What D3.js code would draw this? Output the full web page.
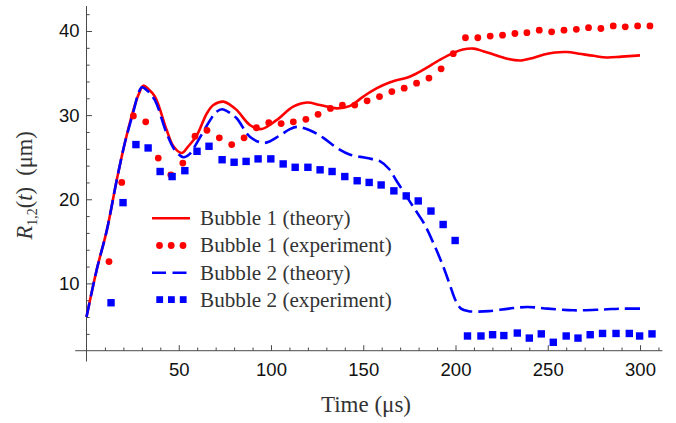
<!DOCTYPE html>
<html>
<head>
<meta charset="utf-8">
<script src="https://cdn.jsdelivr.net/npm/d3@7"></script>
<style>
  html, body { margin: 0; padding: 0; background: #fff; }
  svg { display: block; }
</style>
</head>
<body>
<svg id="chart" width="676" height="423"></svg>
<script>
// Bubble radius vs time: theory curves and measured frames for two bubbles.

// Bubble 1, theory (time in µs, radius in µm)
const theoryT1 = [0, 5.5, 11, 16.4, 20.9, 25.4, 28.5, 30.8, 33.5, 37.1, 43.5, 47.1, 51.6, 55.2, 59.8, 65.2, 68.8, 74.2, 78, 81.5, 88.7, 95, 103, 112, 119.5, 126.6, 135.7, 142.9, 150, 157.4, 164.6, 175.4, 182.6, 191.7, 198.9, 204, 209.8, 215, 220.6, 228, 235.5, 242, 248, 254, 260.4, 267, 274.8, 282, 290, 300];
const theoryR1 = [6.0, 11.6, 16.3, 22.3, 26.8, 30.6, 32.6, 33.5, 33.1, 32.2, 28.2, 26.3, 25.5, 26.3, 27.6, 30.2, 31.2, 31.6, 31.2, 30.6, 28.8, 28.35, 29.4, 31.0, 31.5, 31.2, 30.8, 31.1, 32.2, 33.2, 33.9, 34.6, 35.4, 36.6, 37.4, 37.8, 37.9, 37.6, 37.2, 36.7, 36.5, 36.8, 37.2, 37.45, 37.5, 37.3, 37.05, 36.85, 36.95, 37.1];

// Bubble 2, theory
const theoryT2 = [0, 5.5, 11, 16.4, 20.9, 25.4, 28, 30, 33, 37, 43.5, 48, 52.5, 56, 59.8, 67, 70.5, 73.5, 77.5, 81.5, 88.7, 96.5, 104.9, 110, 114, 121, 128.4, 135.7, 142.9, 152, 159.2, 164, 168, 173, 178, 183, 188, 193, 197, 200, 203, 207, 212, 218, 229, 239, 250, 264, 280, 290, 300];
const theoryR2 = [6.0, 11.6, 16.3, 22.3, 26.8, 30.4, 32.5, 33.3, 32.9, 31.8, 27.8, 25.8, 25.0, 25.4, 26.7, 29.4, 30.4, 30.7, 30.3, 29.6, 27.4, 26.7, 27.6, 28.3, 28.6, 28.2, 27.3, 26.1, 25.3, 24.9, 24.5, 23.6, 22.2, 20.5, 18.8, 17.1, 14.8, 12.2, 9.8, 8.0, 7.0, 6.7, 6.65, 6.7, 7.0, 7.2, 7.0, 6.8, 6.9, 7.0, 7.0];

// Bubble 1, experiment
const expT1 = [12.2, 19.1, 25.4, 32.1, 38.9, 45.7, 52.2, 58.8, 65.3, 72.0, 78.7, 85.4, 92.1, 98.8, 105.5, 112.1, 118.9, 125.5, 132.2, 138.7, 145.4, 152.1, 158.8, 165.5, 172.2, 178.9, 185.6, 192.2, 198.8, 205.4, 212.1, 218.8, 225.5, 232.2, 238.7, 245.4, 252.1, 258.8, 265.5, 272.1, 278.8, 285.5, 292.0, 298.7, 305.4];
const expR1 = [12.6, 22.0, 29.9, 29.2, 24.9, 22.9, 24.3, 27.5, 28.2, 27.3, 26.5, 27.3, 28.5, 29.1, 29.0, 29.2, 29.5, 30.1, 30.8, 31.2, 31.2, 31.7, 32.2, 32.8, 33.2, 33.8, 34.4, 35.5, 37.3, 39.2, 39.2, 39.4, 39.5, 39.7, 39.8, 40.1, 39.9, 40.1, 40.2, 40.4, 40.3, 40.6, 40.5, 40.6, 40.6];

// Bubble 2, experiment
const expT2 = [13.3, 19.8, 26.8, 33.4, 39.9, 46.4, 53.3, 59.9, 66.4, 73.5, 80.0, 86.5, 93.0, 99.9, 106.6, 113.1, 120.0, 126.6, 133.1, 140.0, 146.7, 153.2, 159.7, 166.6, 173.3, 179.8, 186.7, 193.3, 199.8, 206.5, 213.8, 220.1, 226.2, 233.5, 240.0, 246.5, 253.0, 260.0, 266.4, 273.0, 279.7, 287.0, 294.2, 299.8, 306.5];
const expR2 = [7.7, 19.6, 26.5, 26.1, 23.3, 22.7, 23.4, 25.7, 26.3, 24.7, 24.4, 24.5, 24.8, 24.8, 24.2, 23.8, 23.8, 23.5, 23.3, 22.7, 22.2, 22.0, 21.7, 21.0, 20.4, 19.8, 18.6, 17.0, 15.1, 3.75, 3.75, 3.9, 3.8, 4.1, 3.5, 4.0, 3.0, 3.75, 3.5, 3.9, 4.05, 4.05, 4.05, 3.75, 4.0];

// Axis ticks and legend text
const xMajorTicks = [50, 100, 150, 200, 250, 300];
const xMinorTicks = [10, 20, 30, 40, 60, 70, 80, 90, 110, 120, 130, 140, 160, 170, 180, 190, 210, 220, 230, 240, 260, 270, 280, 290, 310];
const yMajorTicks = [10, 20, 30, 40];
const yMinorTicks = [4, 6, 8, 12, 14, 16, 18, 22, 24, 26, 28, 32, 34, 36, 38, 42];
const legendLabels = ["Bubble 1 (theory)", "Bubble 1 (experiment)", "Bubble 2 (theory)", "Bubble 2 (experiment)"];

const RED = "#ff0000", BLUE = "#0000ff";
const AXIS = "#4a4a4a";

const svg = d3.select("#chart");

const x = d3.scaleLinear().domain([0, 300]).range([86.5, 640]);
const y = d3.scaleLinear().domain([10, 40]).range([283.4, 31]);

const xDomain = [-6.12, 312.12];
const yDomain = [0.72, 42.97];
const yCross = 2;

// ---- axes ----
const gAx = svg.append("g");

gAx.append("line")
  .attr("x1", x(xDomain[0])).attr("x2", x(xDomain[1]))
  .attr("y1", y(yCross)).attr("y2", y(yCross))
  .attr("stroke", AXIS).attr("stroke-width", 1);
gAx.append("line")
  .attr("x1", x(0)).attr("x2", x(0))
  .attr("y1", y(yDomain[0])).attr("y2", y(yDomain[1]))
  .attr("stroke", AXIS).attr("stroke-width", 1);

function styleAxis(g) {
  g.select(".domain").remove();
  g.selectAll(".tick line").attr("stroke", AXIS).attr("stroke-width", 1);
  g.selectAll(".tick text")
    .attr("fill", "#111")
    .style("font-family", "'Liberation Sans', Arial, sans-serif")
    .style("font-size", "18.5px");
}

gAx.append("g")
  .attr("transform", `translate(0,${y(yCross)})`)
  .call(d3.axisBottom(x).tickValues(xMinorTicks).tickSize(-3.2).tickFormat(""))
  .call(styleAxis);
gAx.append("g")
  .attr("transform", `translate(0,${y(yCross)})`)
  .call(d3.axisBottom(x).tickValues(xMajorTicks).tickSize(-5.5).tickPadding(12.5).tickFormat(d3.format("d")))
  .call(styleAxis);

gAx.append("g")
  .attr("transform", `translate(${x(0)},0)`)
  .call(d3.axisLeft(y).tickValues(yMinorTicks).tickSize(-3.2).tickFormat(""))
  .call(styleAxis);
gAx.append("g")
  .attr("transform", `translate(${x(0)},0)`)
  .call(d3.axisLeft(y).tickValues(yMajorTicks).tickSize(-5.5).tickPadding(7).tickFormat(d3.format("d")))
  .call(styleAxis);

// ---- axis titles ----
const serif = "'Liberation Serif', 'Times New Roman', serif";

svg.append("text")
  .attr("x", 366).attr("y", 411.5)
  .attr("text-anchor", "middle")
  .attr("fill", "#333")
  .style("font-family", serif).style("font-size", "23px")
  .text("Time (μs)");

const yl = svg.append("text")
  .attr("transform", "translate(31.5,239.5) rotate(-90)")
  .attr("fill", "#333")
  .style("font-family", serif).style("font-size", "22.5px");
yl.append("tspan").style("font-style", "italic").text("R");
yl.append("tspan").style("font-size", "14px").attr("dy", 5).text("1,2");
yl.append("tspan").attr("dy", -5).text("(");
yl.append("tspan").style("font-style", "italic").text("t");
yl.append("tspan").text(")\u00a0\u00a0(μm)");

// ---- theory curves ----
const line = d3.line()
  .x(d => x(d[0])).y(d => y(d[1]))
  .curve(d3.curveCatmullRom.alpha(0.5));

const plot = svg.append("g");

plot.append("path")
  .datum(d3.zip(theoryT1, theoryR1))
  .attr("d", line)
  .attr("fill", "none").attr("stroke", RED).attr("stroke-width", 2.6)
  .attr("stroke-linejoin", "round");

plot.append("path")
  .datum(d3.zip(theoryT2, theoryR2))
  .attr("d", line)
  .attr("fill", "none").attr("stroke", BLUE).attr("stroke-width", 2.6)
  .attr("stroke-dasharray", "15,6");

// ---- experimental points ----
const DOT_R = 3.4, SQ = 7.4;

plot.selectAll("circle.e1")
  .data(d3.zip(expT1, expR1))
  .join("circle")
  .attr("class", "e1")
  .attr("cx", d => x(d[0])).attr("cy", d => y(d[1]))
  .attr("r", DOT_R).attr("fill", RED);

plot.selectAll("rect.e2")
  .data(d3.zip(expT2, expR2))
  .join("rect")
  .attr("class", "e2")
  .attr("x", d => x(d[0]) - SQ / 2).attr("y", d => y(d[1]) - SQ / 2)
  .attr("width", SQ).attr("height", SQ).attr("fill", BLUE);

// ---- legend ----
const legX0 = 152, legX1 = 190, legTextX = 200, legY0 = 218.3, legDy = 27.2;
const leg = svg.append("g");

legendLabels.forEach((lab, i) => {
  const yy = legY0 + i * legDy;
  if (i === 0 || i === 2) {
    leg.append("line")
      .attr("x1", legX0).attr("x2", legX1).attr("y1", yy).attr("y2", yy)
      .attr("stroke", i === 0 ? RED : BLUE).attr("stroke-width", 2.6)
      .attr("stroke-dasharray", i === 2 ? "14,6.5" : null);
  } else {
    [159.5, 171.2, 183].forEach(cx => {
      if (i === 1) {
        leg.append("circle").attr("cx", cx).attr("cy", yy).attr("r", DOT_R).attr("fill", RED);
      } else {
        leg.append("rect").attr("x", cx - SQ / 2 + 0.5).attr("y", yy - SQ / 2)
          .attr("width", SQ - 0.6).attr("height", SQ - 0.6).attr("fill", BLUE);
      }
    });
  }
  leg.append("text")
    .attr("x", legTextX).attr("y", yy + 6.8)
    .attr("fill", "#333")
    .style("font-family", serif).style("font-size", "21.2px")
    .text(lab);
});
</script>
</body>
</html>
